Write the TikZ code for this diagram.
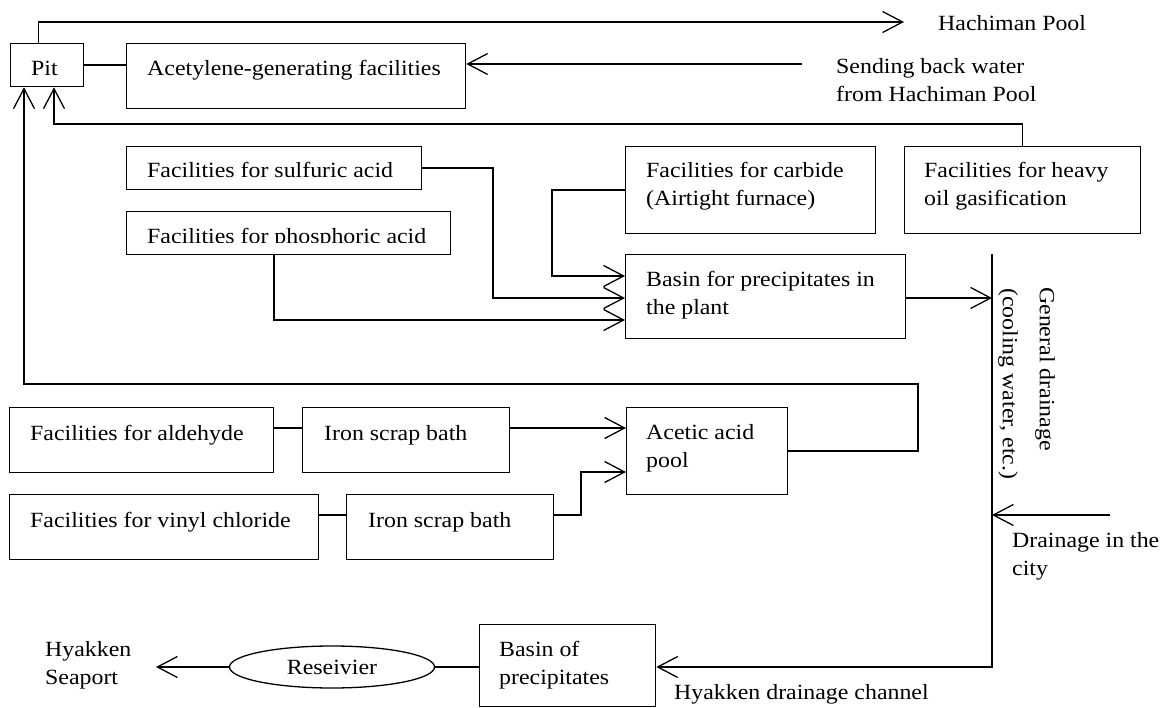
\documentclass[tikz,border=0pt]{standalone}
\usepackage{fontspec}
\setmainfont{Liberation Serif}[FakeStretch=1.1]
\usetikzlibrary{arrows.meta,shapes.geometric,calc}
\begin{document}
\begin{tikzpicture}[x=1pt,y=-1pt,
  box/.style={draw, line width=1.3pt, inner sep=0pt, anchor=north west},
  txt/.style={font=\fontsize{21.7}{28}\selectfont, inner sep=0pt, anchor=north west, align=left},
  con/.style={line width=1.3pt},
  arr/.style={line width=1.3pt, -{Straight Barb[length=20pt,width=21pt,line width=1.3pt]}}]
\useasboundingbox (0,0) rectangle (1168,708);

% boxes
\node[box, minimum width=73,  minimum height=43] (pit)    at (10,43)  {};
\node[box, minimum width=339, minimum height=65] (acet)   at (126,43) {};
\node[box, minimum width=295, minimum height=43] (sulf)   at (126,146) {};
\node[box, minimum width=324, minimum height=43] (phos)   at (126,211) {};
\node[box, minimum width=250, minimum height=87] (carb)   at (625,146) {};
\node[box, minimum width=236, minimum height=87] (heavy)  at (904,146) {};
\node[box, minimum width=280, minimum height=84] (basinp) at (625,254) {};
\node[box, minimum width=264, minimum height=65] (ald)    at (9,407)   {};
\node[box, minimum width=207, minimum height=65] (iron1)  at (302,407) {};
\node[box, minimum width=161, minimum height=87] (acetic) at (626,407) {};
\node[box, minimum width=309, minimum height=65] (vinyl)  at (9,494)   {};
\node[box, minimum width=207, minimum height=65] (iron2)  at (346,494) {};
\node[box, minimum width=176, minimum height=82] (basinb) at (479,624) {};
\node[draw, ellipse, line width=1.3pt, minimum width=205, minimum height=42, inner sep=0pt,
      font=\fontsize{21.7}{28}\selectfont] (rec) at (332,667) {Reseivier};

% box texts
\node[txt] (pitt)    at ($(pit.north west)+(21,17.5)$)    {Pit};
\node[txt] (acett)   at ($(acet.north west)+(21,17.5)$)   {Acetylene-generating facilities};
\node[txt] (sulft)   at ($(sulf.north west)+(21,16.5)$)   {Facilities for sulfuric acid};
\begin{scope}
\clip (126,211) rectangle (450,243);
\node[txt] (phost)   at ($(phos.north west)+(21,17.5)$)   {Facilities for phosphoric acid};
\end{scope}
\node[txt] (carbt)   at ($(carb.north west)+(21,16.5)$)   {Facilities for carbide\\(Airtight furnace)};
\node[txt] (heavyt)  at ($(heavy.north west)+(20,16.5)$)  {Facilities for heavy\\oil gasification};
\node[txt] (basinpt) at ($(basinp.north west)+(21,17)$)   {Basin for precipitates in\\the plant};
\node[txt] (aldt)    at ($(ald.north west)+(21,18)$)      {Facilities for aldehyde};
\node[txt] (iron1t)  at ($(iron1.north west)+(22,18)$)    {Iron scrap bath};
\node[txt] (acetict) at ($(acetic.north west)+(20,17.5)$) {Acetic acid\\pool};
\node[txt] (vinylt)  at ($(vinyl.north west)+(21,18)$)    {Facilities for vinyl chloride};
\node[txt] (iron2t)  at ($(iron2.north west)+(22,18)$)    {Iron scrap bath};
\node[txt] (basinbt) at ($(basinb.north west)+(20,17)$)   {Basin of\\precipitates};

% free texts
\node[txt] (hachi)  at (938,15)   {Hachiman Pool};
\node[txt] (sendb)  at (836,58)   {Sending back water\\from Hachiman Pool};
\node[txt] (city)   at (1012,532) {Drainage in the\\city};
\node[txt] (chan)   at (674,684)  {Hyakken drainage channel};
\node[txt] (sea)    at (45,641)   {Hyakken\\Seaport};
\node[font=\fontsize{21.7}{28}\selectfont, inner sep=0pt, rotate=-90, anchor=west] (gen1) at (1045,287) {General drainage};
\node[font=\fontsize{21.7}{28}\selectfont, inner sep=0pt, rotate=-90, anchor=west] (gen2) at (1008,288) {(cooling water, etc.)};

% coordinates
\coordinate (hp)  at (904,22);
\coordinate (sb)  at (802,64);
\coordinate (c1)  at (54,124);
\coordinate (c2)  at (918,384);
\coordinate (c3)  at (24,384);
\coordinate (j1)  at (493,298);
\coordinate (j2)  at (274,320);
\coordinate (j3)  at (552,276);
\coordinate (d0)  at (992,254);
\coordinate (d1)  at (992,667);
\coordinate (dc)  at (1110,515);
\coordinate (hs)  at (156,667);
\coordinate (ya)  at (0,428);
\coordinate (yb)  at (0,515);
\coordinate (j4)  at (581,472);

% connectors
\draw[arr] ([xshift=-8.5pt]pit.north) |- (hp);
\draw[con] (pit.east) -- (pit.east -| acet.west);
\draw[arr] (sb) -- (sb -| acet.east);
\draw[arr] (heavy.north) |- (c1) -- (c1 |- pit.south);
\draw[arr] (acetic.east) -| (c2) -- (c3) -- (c3 |- pit.south);
\draw[arr] (sulf.east) -| (j1) -- (j1 -| basinp.west);
\draw[arr] (j2 |- phos.south) -- (j2) -- (j2 -| basinp.west);
\draw[arr] (carb.west) -| (j3) -- (j3 -| basinp.west);
\draw[arr] (basinp.east |- j1) -- (j1 -| d0);
\draw[arr] (dc) -- (dc -| d0);
\draw[arr] (d0) -- (d1) -- (d1 -| basinb.east);
\draw[con] (basinb.west |- rec.east) -- (rec.east);
\draw[arr] (rec.west) -- (hs);
\draw[con] (ald.east |- ya) -- (iron1.west |- ya);
\draw[arr] (iron1.east |- ya) -- (acetic.west |- ya);
\draw[con] (vinyl.east |- yb) -- (iron2.west |- yb);
\draw[arr] (iron2.east |- yb) -| (j4) -- (j4 -| acetic.west);
\end{tikzpicture}
\end{document}
